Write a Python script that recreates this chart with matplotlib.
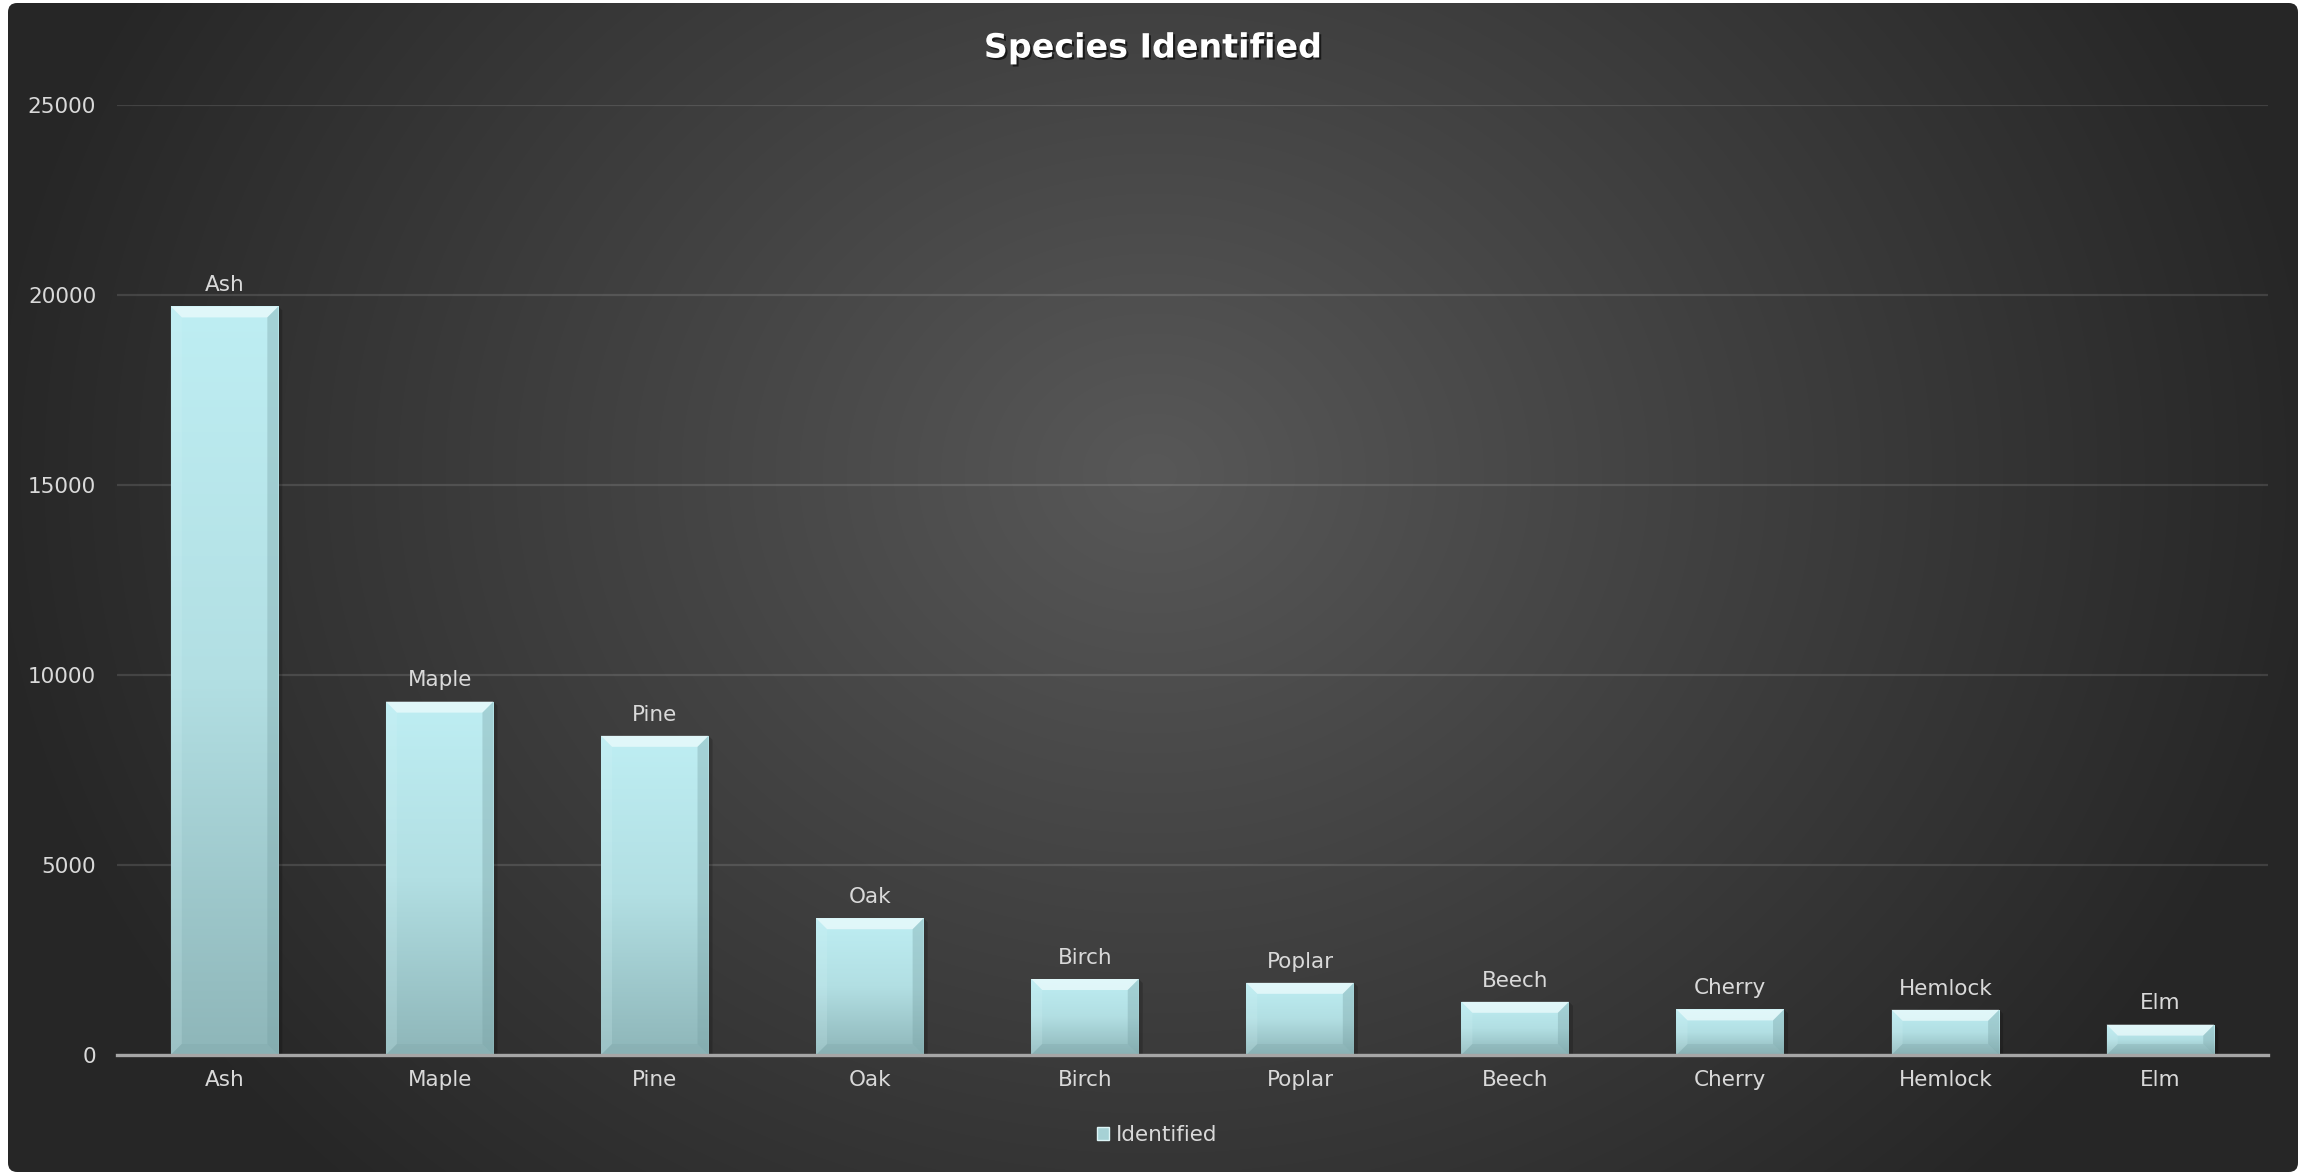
import numpy as np
import matplotlib
matplotlib.use("Agg")
import matplotlib.pyplot as plt
from matplotlib.colors import LinearSegmentedColormap
from matplotlib.patches import FancyBboxPatch, Polygon, Patch
import matplotlib.patheffects as pe

# dados do grafico
especies = ["Ash", "Maple", "Pine", "Oak", "Birch", "Poplar", "Beech", "Cherry", "Hemlock", "Elm"]
identificadas = [19700, 9300, 8400, 3600, 2000, 1900, 1400, 1200, 1190, 800]
ticks_y = [0, 5000, 10000, 15000, 20000, 25000]

W, H = 2305, 1175
cor_texto = "#D9D9D9"
tam = 15.5
plt.rcParams["font.family"] = "DejaVu Sans"

fig = plt.figure(figsize=(W / 100, H / 100), dpi=100, facecolor="white")

# fundo com gradiente radial e cantos arredondados
bg = fig.add_axes([8 / W, 3 / H, 2290 / W, 1169 / H])
bg.set_axis_off()
yy, xx = np.mgrid[0:1169, 0:2290]
r = np.sqrt(((xx - 1145) / 1180.0) ** 2 + ((yy - 470) / 1000.0) ** 2)
r = np.clip(r, 0, 1)
val = (0x58 - r * (0x58 - 0x26)) / 255.0
img = np.dstack([val, val, val])
im = bg.imshow(img, extent=[0, 1, 0, 1], aspect="auto", origin="upper")
caixa = FancyBboxPatch((0, 0), 1, 1, boxstyle="round,pad=0,rounding_size=0.004",
                       mutation_aspect=2290 / 1169, transform=bg.transAxes,
                       facecolor="none", edgecolor="none")
bg.add_patch(caixa)
im.set_clip_path(caixa)
bg.set_xlim(0, 1)
bg.set_ylim(0, 1)

# area do grafico
left, right, top, zero = 117, 2268, 105, 1055
ax = fig.add_axes([left / W, 1 - zero / H, (right - left) / W, (zero - top) / H])
ax.set_facecolor("none")
x = np.arange(len(especies))

for s in ["top", "right", "left"]:
    ax.spines[s].set_visible(False)
ax.spines["bottom"].set_color("#A6A6A6")
ax.spines["bottom"].set_linewidth(2.4)
ax.spines["bottom"].set_zorder(5)

ax.set_yticks(ticks_y)
ax.set_yticklabels([str(t) for t in ticks_y])
ax.set_xticks(x)
ax.set_xticklabels(especies)
ax.tick_params(axis="both", length=0, colors=cor_texto, labelsize=tam)
ax.tick_params(axis="y", pad=15)
ax.tick_params(axis="x", pad=11)
ax.yaxis.grid(True, color="white", alpha=0.12, linewidth=1.6)
ax.set_axisbelow(True)

# barras com gradiente e bisel
cmap = LinearSegmentedColormap.from_list("barra", [(0, "#8EB6B9"), (0.5, "#B2DFE3"), (1, "#BEEEF3")])
grad = np.linspace(1, 0, 256).reshape(-1, 1)
largura = 0.5
px_x = (len(especies)) / (right - left)
px_y = 25000 / (zero - top)
bev = 11

barras = ax.bar(x, identificadas, width=largura, color="none", edgecolor="none", zorder=3)
for i, b in enumerate(barras):
    x0, x1 = b.get_x(), b.get_x() + b.get_width()
    h = b.get_height()
    g = ax.imshow(grad, extent=[x0, x1, 0, h], aspect="auto", cmap=cmap, vmin=0, vmax=1, zorder=3)
    g.set_clip_path(b)
    bx, by = bev * px_x, min(bev * px_y, h / 2.5)
    faces = [
        ([(x0, h), (x1, h), (x1 - bx, h - by), (x0 + bx, h - by)], "#F0FCFD", 0.7),
        ([(x0, 0), (x0, h), (x0 + bx, h - by), (x0 + bx, by)], "#D6F5F8", 0.2),
        ([(x1, 0), (x1, h), (x1 - bx, h - by), (x1 - bx, by)], "#759EA1", 0.35),
        ([(x0, 0), (x1, 0), (x1 - bx, by), (x0 + bx, by)], "#7FA6A9", 0.3),
    ]
    for pts, cor, a in faces:
        ax.add_patch(Polygon(pts, closed=True, facecolor=cor, edgecolor="none", alpha=a, zorder=4))
    # sombra leve a direita
    ax.add_patch(Polygon([(x1, 0), (x1, h), (x1 + 4 * px_x, h - 4 * px_y), (x1 + 4 * px_x, 0)],
                         closed=True, facecolor="black", alpha=0.18, edgecolor="none", zorder=2))
    ax.annotate(especies[i], (x[i], h), xytext=(0, 8), textcoords="offset points",
                ha="center", va="bottom", color=cor_texto, fontsize=tam, zorder=6)

ax.set_xlim(-0.5, len(especies) - 0.5)
ax.set_ylim(0, 25000)

# titulo
fig.text(1153 / W, 1 - 48 / H, "Species Identified", ha="center", va="center",
         color="white", fontsize=24, fontweight="bold",
         path_effects=[pe.withSimplePatchShadow(offset=(1.5, -1.5), shadow_rgbFace="black", alpha=0.6)])

# legenda
leg = fig.legend(handles=[Patch(facecolor="#A6D1D5", edgecolor="#DDF5F7", linewidth=1)],
                 labels=["Identified"], loc="center", bbox_to_anchor=(1157 / W, 1 - 1135 / H),
                 frameon=False, fontsize=tam, handlelength=0.6, handleheight=0.6, handletextpad=0.3)
for t in leg.get_texts():
    t.set_color(cor_texto)

fig.savefig("out.png", dpi=100, facecolor="white")
